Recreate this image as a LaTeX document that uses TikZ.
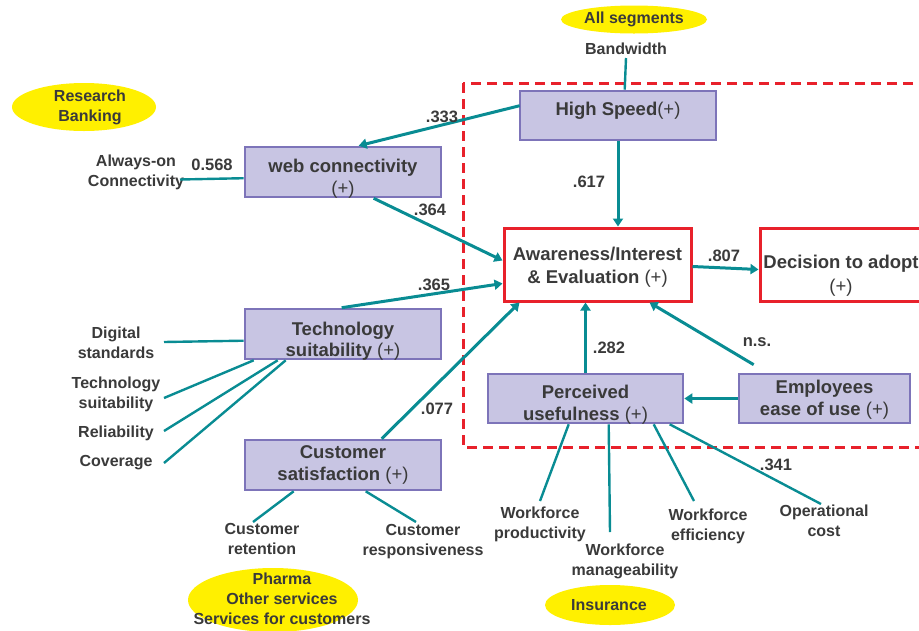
\documentclass[tikz,border=0pt]{standalone}
\usepackage{fontspec}
\setmainfont{Liberation Sans}
\usetikzlibrary{arrows.meta,calc}

\definecolor{txt}{HTML}{3A3A3A}
\definecolor{boxfill}{HTML}{C8C5E3}
\definecolor{boxedge}{HTML}{7D74B9}
\definecolor{linkc}{HTML}{098C93}
\definecolor{stagered}{HTML}{E8212B}
\definecolor{segyellow}{HTML}{FFF000}

\begin{document}
\begin{tikzpicture}[x=1pt,y=-1pt,
  every node/.style={text=txt, align=center, inner sep=0pt},
  item/.style={font=\bfseries\fontsize{16}{20}\selectfont},
  coef/.style={font=\bfseries\fontsize{16.5}{20}\selectfont},
  construct/.style={draw=boxedge, fill=boxfill, line width=2.6pt},
  stage/.style={draw=stagered, fill=white, line width=3pt},
  boxtext/.style={font=\bfseries\fontsize{18.5}{21.5}\selectfont},
  stagetext/.style={font=\bfseries\fontsize{18.5}{23.5}\selectfont},
  effect/.style={draw=linkc, line width=3pt, -{Triangle[length=8pt,width=10pt]}},
  indicator/.style={draw=linkc, line width=2.4pt},
  segment/.style={fill=segyellow}]

\useasboundingbox (0,0) rectangle (919,630);
\clip (0,0) rectangle (919,630);

% adoption process frame
\draw[stagered, line width=3pt, dash pattern=on 10pt off 6pt]
  (463,83) rectangle (940,447);

% industry segments
\fill[segment] (634,19.5) ellipse [x radius=73pt, y radius=14pt];
\node[item] (segall) at (634,19.5) {All segments};
\fill[segment] (84,107) ellipse [x radius=72pt, y radius=24pt];
\node[item] (segbank) at (90,107.5) {Research\\Banking};
\fill[segment] (273,600) ellipse [x radius=85pt, y radius=32pt];
\node[item] (segpharma) at (282,599) {Pharma\\Other services\\Services for customers};
\fill[segment] (610,605) ellipse [x radius=65pt, y radius=20pt];
\node[item] (segins) at (609,605) {Insurance};

% constructs
\node[construct, minimum width=196pt, minimum height=49pt] (hs) at (618,115.5) {};
\node[boxtext] (hst) at ($(hs)+(0,-5)$) {High Speed{\mdseries(+)}};
\node[construct, minimum width=196pt, minimum height=50pt] (web) at (343,172) {};
\node[boxtext] (webt) at ($(web)+(0,6.5)$) {web connectivity\\{\mdseries(+)}};
\node[construct, minimum width=196pt, minimum height=50pt] (tech) at (343,334) {};
\node[boxtext] (techt) at ($(tech)+(0,7)$) {Technology\\suitability {\mdseries(+)}};
\node[construct, minimum width=196pt, minimum height=50pt] (cust) at (343,465) {};
\node[boxtext] (custt) at ($(cust)+(0,0)$) {Customer\\satisfaction {\mdseries(+)}};
\node[construct, minimum width=195pt, minimum height=49pt] (pu) at (585.5,398.5) {};
\node[boxtext] (put) at ($(pu)+(0,6)$) {Perceived\\usefulness {\mdseries(+)}};
\node[construct, minimum width=171pt, minimum height=49pt] (emp) at (824.5,398.5) {};
\node[boxtext] (empt) at ($(emp)+(0,1)$) {Employees\\ease of use {\mdseries(+)}};

% adoption stages
\node[stage, minimum width=187pt, minimum height=73pt] (aw) at (597.5,264.5) {};
\node[stagetext] (awt) at ($(aw)+(0,2.5)$) {Awareness/Interest\\\& Evaluation {\mdseries(+)}};
\node[stage, minimum width=164pt, minimum height=73pt] (dec) at (842,264.5) {};
\node[stagetext] (dect) at ($(dec)+(-1,11)$) {Decision to adopt\\{\mdseries(+)}};

% structural paths
\draw[effect] ($(hs.north west)+(1,16)$) -- ($(web.north west)+(115,0)$);
\draw[effect] ($(web.south west)+(130,0)$) -- ($(aw.north west)+(0,34)$);
\draw[effect] ($(tech.north west)+(98,0)$) -- ($(aw.north west)+(0,57)$);
\draw[effect] ($(cust.north west)+(138,0)$) -- ($(aw.south west)+(17,0)$);
\draw[effect] (hs.south) -- (hs.south |- aw.north);
\draw[effect] ($(aw.north east)+(0,40)$) -- ($(dec.north west)+(0,43)$);
\draw[effect] (pu.north) -- (pu.north |- aw.south);
\draw[effect] ($(emp.north west)+(16,-8)$) -- ($(aw.south west)+(147,0)$);
\draw[effect] (emp.west) -- (pu.east);

% path coefficients
\node[coef] (c333) at (442,117) {.333};
\node[coef] (c568) at (212,165) {0.568};
\node[coef] (c364) at (430,210) {.364};
\node[coef] (c365) at (434,285) {.365};
\node[coef] (c617) at (589,182) {.617};
\node[coef] (c807) at (724,256) {.807};
\node[coef] (c282) at (609,348) {.282};
\node[coef] (cns) at (757,342) {n.s.};
\node[coef] (c077) at (437,409) {.077};
\node[coef] (c341) at (776,465) {.341};

% indicators
\node[item] (iband) at (626,49) {Bandwidth};
\coordinate (eband) at (626,58);
\draw[indicator] (eband) -- ($(hs.north west)+(106,0)$);

\node[item] (ialways) at (136,172) {Always-on\\Connectivity};
\coordinate (ealways) at (180,179.5);
\draw[indicator] (ealways) -- ($(web.north west)+(0,32.5)$);

\node[item] (idig) at (116,343) {Digital\\standards};
\coordinate (edig) at (164,342);
\draw[indicator] (edig) -- ($(tech.north west)+(0,33)$);

\node[item] (itech) at (116,394.5) {Technology\\suitability};
\coordinate (etech) at (164,398);
\draw[indicator] (etech) -- ($(tech.south west)+(10,0)$);

\node[item] (irel) at (116,433) {Reliability};
\coordinate (erel) at (164,431);
\draw[indicator] (erel) -- ($(tech.south west)+(34,0)$);

\node[item] (icov) at (116,463) {Coverage};
\coordinate (ecov) at (164,463);
\draw[indicator] (ecov) -- ($(tech.south west)+(42,0)$);

\node[item] (iret) at (262,539) {Customer\\retention};
\coordinate (eret) at (253,522);
\draw[indicator] (eret) -- ($(cust.south west)+(50,0)$);

\node[item] (iresp) at (423,541.5) {Customer\\responsiveness};
\coordinate (eresp) at (416,522);
\draw[indicator] (eresp) -- ($(cust.south west)+(122,0)$);

\node[item] (iprod) at (540,524.5) {Workforce\\productivity};
\coordinate (eprod) at (540,501);
\draw[indicator] (eprod) -- ($(pu.south west)+(82,0)$);

\node[item] (iman) at (625,561) {Workforce\\manageability};
\coordinate (eman) at (610,532);
\draw[indicator] (eman) -- ($(pu.south west)+(122,0)$);

\node[item] (ieff) at (708,526) {Workforce\\efficiency};
\coordinate (eeff) at (694,501);
\draw[indicator] (eeff) -- ($(pu.south west)+(167,0)$);

\node[item] (iop) at (824,521) {Operational\\cost};
\coordinate (eop) at (821,504);
\draw[indicator] (eop) -- ($(pu.south west)+(183,0)$);

\end{tikzpicture}
\end{document}
